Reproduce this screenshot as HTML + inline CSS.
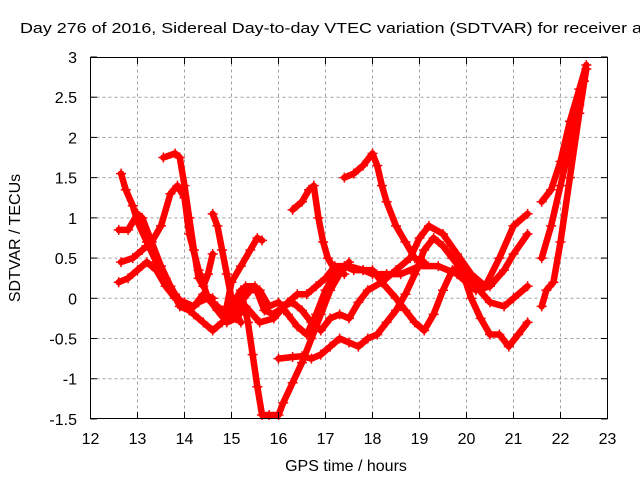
<!DOCTYPE html>
<html><head><meta charset="utf-8"><style>
body{margin:0;background:#fff}
svg text{font-family:"Liberation Sans","DejaVu Sans",sans-serif}
</style></head><body>
<svg id="chart" width="640" height="480" viewBox="0 0 640 480" xmlns="http://www.w3.org/2000/svg">
<rect width="640" height="480" fill="#fff"/>
<text x="20" y="33" font-size="15" fill="#000" textLength="622" lengthAdjust="spacingAndGlyphs">Day 276 of 2016, Sidereal Day-to-day VTEC variation (SDTVAR) for receiver a</text>
<g id="grid"></g>
<g id="marks"></g>
<rect x="90.5" y="57.5" width="517" height="361" fill="none" stroke="#000" stroke-width="1"/>
<g id="ticks"></g>
<text x="346" y="471" font-size="16" text-anchor="middle">GPS time / hours</text>
<text transform="translate(20,238) rotate(-90)" font-size="16" text-anchor="middle">SDTVAR / TECUs</text>
</svg>
<script>
const xTicks=[12,13,14,15,16,17,18,19,20,21,22,23];
const yTicks=[-1.5,-1,-0.5,0,0.5,1,1.5,2,2.5,3];
const track1=[[12.65,1.55],[12.75,1.35],[12.9,1.15],[13.0,0.95],[13.2,0.7],[13.4,0.45],[13.6,0.25],[13.8,0.05],[14.0,-0.1],[14.2,-0.2],[14.4,-0.3],[14.6,-0.4],[14.8,-0.3],[15.0,-0.25],[15.2,-0.05],[15.4,0.1],[15.6,0.1],[15.8,-0.1],[16.0,-0.05],[16.2,-0.2],[16.4,-0.35],[16.6,-0.45],[16.8,-0.2],[17.0,0.1],[17.2,0.3],[17.4,0.4],[17.6,0.35],[17.8,0.35],[18.0,0.3],[18.3,0.3],[18.6,0.3],[19.0,0.4],[19.4,0.4],[19.8,0.3],[20.2,0.1],[20.5,0.15],[20.8,0.35],[21.0,0.55],[21.3,0.8]];
const track2=[[12.6,0.85],[12.8,0.85],[13.0,1.05],[13.1,1.0],[13.3,0.7],[13.5,0.4],[13.7,0.15],[13.9,-0.1],[14.1,-0.15],[14.3,-0.05],[14.5,0.0],[14.7,-0.1],[14.9,-0.2],[15.1,0.0],[15.3,0.15],[15.5,0.15],[15.7,-0.15],[15.9,-0.2],[16.1,-0.1],[16.3,-0.05],[16.5,-0.15],[16.7,-0.3],[16.9,-0.4],[17.1,-0.25],[17.3,-0.2],[17.5,-0.25],[17.7,-0.05],[17.9,0.1],[18.2,0.2],[18.5,0.35],[18.8,0.5],[19.0,0.75],[19.2,0.9],[19.5,0.8],[19.8,0.55],[20.1,0.3],[20.4,0.15],[20.7,0.5],[21.0,0.9],[21.3,1.05]];
const track3=[[12.65,0.45],[12.9,0.5],[13.1,0.6],[13.3,0.7],[13.5,0.9],[13.7,1.3],[13.85,1.4],[14.0,1.25],[14.1,0.8],[14.3,0.35],[14.5,0.0],[14.7,-0.15],[14.9,-0.3],[15.1,-0.25],[15.3,-0.1],[15.6,-0.3],[15.9,-0.25],[16.2,-0.05],[16.4,0.05],[16.6,0.05],[16.8,0.15],[17.0,0.25],[17.2,0.4],[17.5,0.4],[17.8,0.35],[18.0,0.35],[18.2,0.2],[18.5,0.0],[18.7,-0.15],[18.9,-0.3],[19.1,-0.4],[19.3,-0.2],[19.5,0.1],[19.7,0.35],[19.9,0.4],[20.2,0.15],[20.5,-0.05],[20.8,-0.1],[21.0,0.0],[21.3,0.15]];
const track4=[[13.55,1.75],[13.8,1.8],[13.9,1.75],[14.0,1.4],[14.1,1.0],[14.2,0.6],[14.3,0.25],[14.4,0.15],[14.5,0.3],[14.6,0.55]];
const track5=[[14.6,1.05],[14.7,0.9],[14.8,0.6],[14.9,0.3],[15.0,0.0],[15.1,-0.2],[15.2,-0.3]];
const track6=[[14.9,-0.1],[15.0,0.2],[15.2,0.4],[15.4,0.6],[15.55,0.75],[15.65,0.72]];
const track7=[[15.0,-0.1],[15.2,0.1],[15.35,-0.3],[15.45,-0.7],[15.55,-1.1],[15.65,-1.45],[15.8,-1.45],[16.0,-1.45],[16.1,-1.3],[16.3,-1.05],[16.5,-0.8],[16.7,-0.5],[16.9,-0.2],[17.1,0.1],[17.3,0.3],[17.5,0.45]];
const track8=[[16.0,-0.75],[16.3,-0.73],[16.5,-0.72],[16.7,-0.75],[16.9,-0.7],[17.1,-0.6],[17.3,-0.5],[17.5,-0.55],[17.7,-0.6],[17.9,-0.5],[18.1,-0.45],[18.3,-0.3],[18.5,-0.15],[18.7,0.05],[18.9,0.3],[19.1,0.6],[19.3,0.75],[19.5,0.65],[19.7,0.5],[19.9,0.35],[20.1,0.0],[20.3,-0.25],[20.5,-0.45],[20.7,-0.45],[20.9,-0.6],[21.1,-0.45],[21.3,-0.3]];
const track9=[[16.3,1.1],[16.5,1.2],[16.65,1.35],[16.75,1.4],[16.85,1.0],[16.95,0.7],[17.05,0.5],[17.2,0.35],[17.4,0.3]];
const track10=[[17.4,1.5],[17.6,1.55],[17.8,1.65],[18.0,1.8],[18.1,1.65],[18.2,1.4],[18.3,1.2],[18.5,0.9],[18.7,0.7],[18.9,0.5],[19.1,0.45]];
const track11=[[12.6,0.2],[12.8,0.25],[13.0,0.35],[13.2,0.45],[13.4,0.35],[13.6,0.15],[13.8,0.0],[14.0,-0.05],[14.2,-0.1],[14.4,0.05],[14.6,0.0]];
const track12=[[21.6,1.2],[21.8,1.35],[22.0,1.7],[22.2,2.2],[22.4,2.6],[22.55,2.9]];
const track13=[[21.6,0.5],[21.8,0.9],[22.0,1.4],[22.2,1.9],[22.4,2.4],[22.5,2.7]];
const track14=[[21.6,-0.1],[21.7,0.1],[21.85,0.2],[22.0,0.7],[22.2,1.5],[22.4,2.3],[22.55,2.85]];
const tracks=[track1,track2,track3,track4,track5,track6,track7,track8,track9,track10,track11,track12,track13,track14];

const NS='http://www.w3.org/2000/svg';
const X=t=>90.5+(t-12)*47;
const Y=v=>298.3-v*80.44;
const grid=document.getElementById('grid'),ticks=document.getElementById('ticks'),marks=document.getElementById('marks');
function mk(tag,attrs,parent){const e=document.createElementNS(NS,tag);for(const k in attrs)e.setAttribute(k,attrs[k]);parent.appendChild(e);return e;}
xTicks.forEach(t=>{
  const x=X(t);
  if(t>12&&t<23){const g=mk('line',{x1:x,x2:x,y1:57.5,y2:418.5,stroke:'#a0a0a0','stroke-dasharray':'3,3'},grid);
  
  }
  mk('line',{x1:x,x2:x,y1:418.5,y2:412,stroke:'#000'},ticks);
  mk('line',{x1:x,x2:x,y1:57.5,y2:64,stroke:'#000'},ticks);
  const l=mk('text',{x:x,y:444,'font-size':16,'text-anchor':'middle'},ticks);
  l.textContent=t;
  
  
});
yTicks.forEach(v=>{
  const y=Y(v);
  if(v>-1.5&&v<3){const g=mk('line',{x1:90.5,x2:607.5,y1:y,y2:y,stroke:'#a0a0a0','stroke-dasharray':'3,3'},grid);
  
  }
  mk('line',{x1:90.5,x2:97,y1:y,y2:y,stroke:'#000'},ticks);
  mk('line',{x1:607.5,x2:601,y1:y,y2:y,stroke:'#000'},ticks);
  const l=mk('text',{x:77,y:y+6,'font-size':16,'text-anchor':'end'},ticks);
  l.textContent=v;
  
  
});
tracks.forEach((tr,i)=>{
  const p=mk('polyline',{points:tr.map(d=>X(d[0])+','+Y(d[1])).join(' '),fill:'none',stroke:'#f00','stroke-width':6.5,'stroke-linejoin':'round','stroke-linecap':'round'},marks);
  
  
  tr.forEach(d=>{
    const x=X(d[0]),y=Y(d[1]);
    const m=mk('path',{d:`M${x-5},${y}H${x+5}M${x},${y-5}V${y+5}`,stroke:'#f00','stroke-width':1.5},marks);
    
    
  });
});
</script>
</body></html>
